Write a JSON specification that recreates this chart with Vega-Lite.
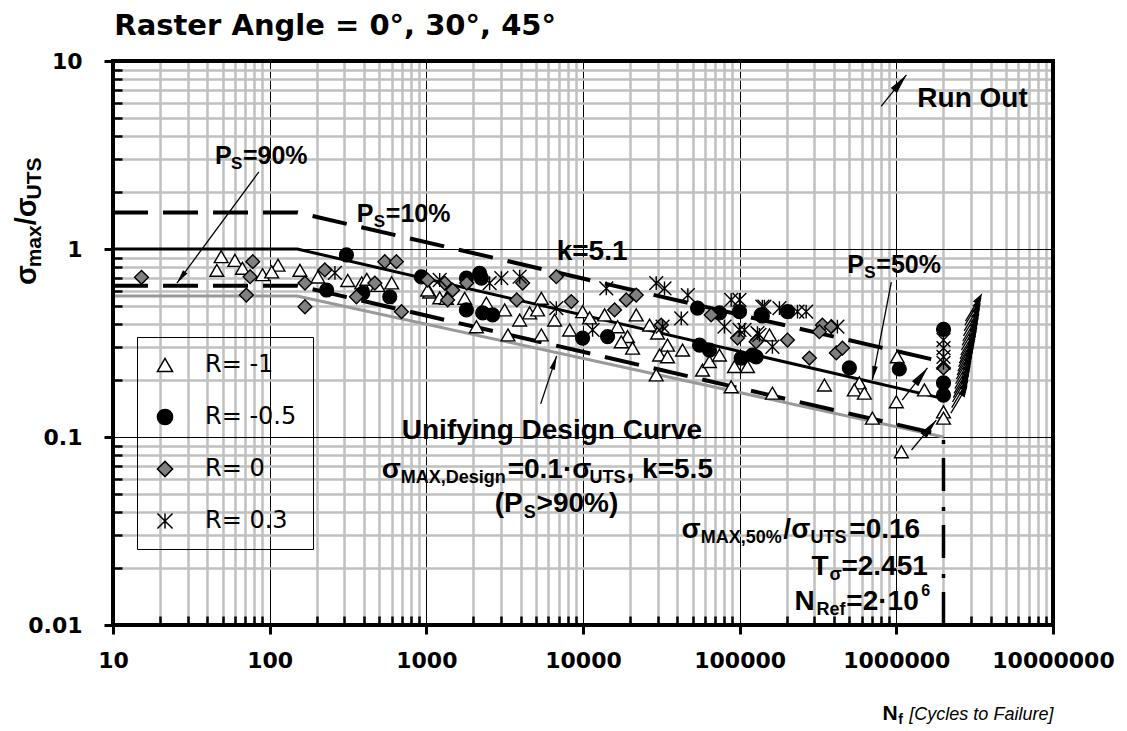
{
"$schema": "https://vega.github.io/schema/vega-lite/v6.json",
"width": 940,
"height": 564,
"autosize": {"type": "none"},
"padding": {"left": 113, "top": 61, "right": 74, "bottom": 106},
"background": "white",
"config": {"view": {"stroke": null}},
"resolve": {"axis": {"x": "independent", "y": "independent"}},
"datasets": {
"curves": [
{"c":"design","N":10,"sigma":0.562},{"c":"design","N":150,"sigma":0.562},{"c":"design","N":2000000,"sigma":0.1},
{"c":"p90","N":10,"sigma":0.638},{"c":"p90","N":150,"sigma":0.638},{"c":"p90","N":2000000,"sigma":0.102},
{"c":"p10","N":10,"sigma":1.566},{"c":"p10","N":150,"sigma":1.566},{"c":"p10","N":2000000,"sigma":0.2506},
{"c":"p50","N":10,"sigma":1.0},{"c":"p50","N":150,"sigma":1.0},{"c":"p50","N":2000000,"sigma":0.16}
],
"vref": [{"N":2000000,"lo":0.01,"hi":0.1}],
"frame": [{"x":10,"x2":10000000,"y":0.01,"y2":10}],
"points": [
{"R":"-1","N":49,"sigma":0.91},{"R":"-1","N":46,"sigma":0.77},{"R":"-1","N":60,"sigma":0.87},{"R":"-1","N":67,"sigma":0.79},{"R":"-1","N":113,"sigma":0.82},{"R":"-1","N":90,"sigma":0.73},{"R":"-1","N":103,"sigma":0.755},{"R":"-1","N":156,"sigma":0.77},{"R":"-1","N":203,"sigma":0.71},{"R":"-1","N":315,"sigma":0.68},{"R":"-1","N":387,"sigma":0.66},{"R":"-1","N":417,"sigma":0.69},{"R":"-1","N":490,"sigma":0.64},{"R":"-1","N":601,"sigma":0.66},{"R":"-1","N":1050,"sigma":0.59},{"R":"-1","N":1217,"sigma":0.55},{"R":"-1","N":1020,"sigma":0.605},{"R":"-1","N":1343,"sigma":0.547},{"R":"-1","N":1757,"sigma":0.547},{"R":"-1","N":2417,"sigma":0.516},{"R":"-1","N":3162,"sigma":0.474},{"R":"-1","N":4563,"sigma":0.457},{"R":"-1","N":5420,"sigma":0.547},{"R":"-1","N":5130,"sigma":0.474},{"R":"-1","N":6590,"sigma":0.419},{"R":"-1","N":3942,"sigma":0.419},{"R":"-1","N":2088,"sigma":0.386},{"R":"-1","N":3320,"sigma":0.349},{"R":"-1","N":5420,"sigma":0.349},{"R":"-1","N":8220,"sigma":0.371},{"R":"-1","N":9940,"sigma":0.464},{"R":"-1","N":11020,"sigma":0.43},{"R":"-1","N":13740,"sigma":0.446},{"R":"-1","N":16620,"sigma":0.386},{"R":"-1","N":19240,"sigma":0.342},{"R":"-1","N":17540,"sigma":0.321},{"R":"-1","N":20720,"sigma":0.297},{"R":"-1","N":21870,"sigma":0.446},{"R":"-1","N":26620,"sigma":0.394},{"R":"-1","N":29900,"sigma":0.357},{"R":"-1","N":34640,"sigma":0.308},{"R":"-1","N":30820,"sigma":0.273},{"R":"-1","N":34640,"sigma":0.267},{"R":"-1","N":43200,"sigma":0.29},{"R":"-1","N":29330,"sigma":0.214},{"R":"-1","N":57930,"sigma":0.227},{"R":"-1","N":64150,"sigma":0.252},{"R":"-1","N":74310,"sigma":0.273},{"R":"-1","N":92680,"sigma":0.237},{"R":"-1","N":112200,"sigma":0.237},{"R":"-1","N":88280,"sigma":0.185},{"R":"-1","N":154900,"sigma":0.349},{"R":"-1","N":161800,"sigma":0.171},{"R":"-1","N":347500,"sigma":0.189},{"R":"-1","N":580500,"sigma":0.194},{"R":"-1","N":539500,"sigma":0.178},{"R":"-1","N":624900,"sigma":0.171},{"R":"-1","N":703200,"sigma":0.126},{"R":"-1","N":1014000,"sigma":0.267},{"R":"-1","N":1000000,"sigma":0.154},{"R":"-1","N":1511000,"sigma":0.178},{"R":"-1","N":2000000,"sigma":0.136},{"R":"-1","N":2000000,"sigma":0.126},{"R":"-1","N":1077000,"sigma":0.0835},
{"R":"-0.5","N":309,"sigma":0.93},{"R":"-0.5","N":931,"sigma":0.71},{"R":"-0.5","N":231,"sigma":0.605},{"R":"-0.5","N":393,"sigma":0.583},{"R":"-0.5","N":584,"sigma":0.557},{"R":"-0.5","N":1803,"sigma":0.70},{"R":"-0.5","N":2190,"sigma":0.743},{"R":"-0.5","N":2245,"sigma":0.70},{"R":"-0.5","N":1803,"sigma":0.474},{"R":"-0.5","N":2290,"sigma":0.457},{"R":"-0.5","N":2650,"sigma":0.446},{"R":"-0.5","N":9940,"sigma":0.336},{"R":"-0.5","N":14350,"sigma":0.342},{"R":"-0.5","N":53830,"sigma":0.485},{"R":"-0.5","N":74310,"sigma":0.457},{"R":"-0.5","N":99730,"sigma":0.464},{"R":"-0.5","N":137100,"sigma":0.446},{"R":"-0.5","N":55430,"sigma":0.308},{"R":"-0.5","N":64150,"sigma":0.29},{"R":"-0.5","N":102300,"sigma":0.263},{"R":"-0.5","N":127400,"sigma":0.267},{"R":"-0.5","N":139600,"sigma":0.44},{"R":"-0.5","N":201900,"sigma":0.464},{"R":"-0.5","N":501400,"sigma":0.233},{"R":"-0.5","N":1045000,"sigma":0.23},{"R":"-0.5","N":120800,"sigma":0.273},{"R":"-0.5","N":2000000,"sigma":0.374},{"R":"-0.5","N":2000000,"sigma":0.194},{"R":"-0.5","N":2000000,"sigma":0.167},
{"R":"0","N":15.2,"sigma":0.707},{"R":"0","N":78,"sigma":0.856},{"R":"0","N":75,"sigma":0.712},{"R":"0","N":71,"sigma":0.569},{"R":"0","N":168,"sigma":0.659},{"R":"0","N":168,"sigma":0.493},{"R":"0","N":225,"sigma":0.774},{"R":"0","N":358,"sigma":0.557},{"R":"0","N":469,"sigma":0.659},{"R":"0","N":543,"sigma":0.856},{"R":"0","N":644,"sigma":0.856},{"R":"0","N":694,"sigma":0.464},{"R":"0","N":1020,"sigma":0.684},{"R":"0","N":1310,"sigma":0.659},{"R":"0","N":1473,"sigma":0.605},{"R":"0","N":1368,"sigma":0.536},{"R":"0","N":1811,"sigma":0.659},{"R":"0","N":4121,"sigma":0.659},{"R":"0","N":6757,"sigma":0.712},{"R":"0","N":3776,"sigma":0.536},{"R":"0","N":8420,"sigma":0.525},{"R":"0","N":15910,"sigma":0.474},{"R":"0","N":21870,"sigma":0.569},{"R":"0","N":18890,"sigma":0.536},{"R":"0","N":31580,"sigma":0.394},{"R":"0","N":65770,"sigma":0.446},{"R":"0","N":96850,"sigma":0.336},{"R":"0","N":127400,"sigma":0.321},{"R":"0","N":201900,"sigma":0.328},{"R":"0","N":278700,"sigma":0.263},{"R":"0","N":337400,"sigma":0.394},{"R":"0","N":384800,"sigma":0.386},{"R":"0","N":322800,"sigma":0.363},{"R":"0","N":414000,"sigma":0.28},{"R":"0","N":452900,"sigma":0.297},{"R":"0","N":2000000,"sigma":0.233},
{"R":"0.3","N":261,"sigma":0.746},{"R":"0.3","N":1217,"sigma":0.684},{"R":"0.3","N":2535,"sigma":0.659},{"R":"0.3","N":3013,"sigma":0.70},{"R":"0.3","N":3942,"sigma":0.712},{"R":"0.3","N":6757,"sigma":0.485},{"R":"0.3","N":11510,"sigma":0.371},{"R":"0.3","N":14090,"sigma":0.618},{"R":"0.3","N":29330,"sigma":0.659},{"R":"0.3","N":33130,"sigma":0.618},{"R":"0.3","N":46690,"sigma":0.569},{"R":"0.3","N":42390,"sigma":0.428},{"R":"0.3","N":32200,"sigma":0.386},{"R":"0.3","N":79980,"sigma":0.386},{"R":"0.3","N":88280,"sigma":0.536},{"R":"0.3","N":99730,"sigma":0.536},{"R":"0.3","N":99730,"sigma":0.371},{"R":"0.3","N":107400,"sigma":0.371},{"R":"0.3","N":133700,"sigma":0.349},{"R":"0.3","N":129900,"sigma":0.357},{"R":"0.3","N":139600,"sigma":0.493},{"R":"0.3","N":143900,"sigma":0.493},{"R":"0.3","N":179400,"sigma":0.485},{"R":"0.3","N":233900,"sigma":0.464},{"R":"0.3","N":265700,"sigma":0.464},{"R":"0.3","N":161800,"sigma":0.302},{"R":"0.3","N":420600,"sigma":0.386},{"R":"0.3","N":2000000,"sigma":0.328},{"R":"0.3","N":2000000,"sigma":0.297},{"R":"0.3","N":2000000,"sigma":0.267},{"R":"0.3","N":2000000,"sigma":0.248}
],
"runout": [
{"N":2500000,"sigma":0.157},{"N":2530000,"sigma":0.168},{"N":2560000,"sigma":0.18},{"N":2590000,"sigma":0.19},{"N":2620000,"sigma":0.2},{"N":2650000,"sigma":0.212},{"N":2680000,"sigma":0.225},{"N":2710000,"sigma":0.238},{"N":2740000,"sigma":0.25},{"N":2770000,"sigma":0.263},{"N":2800000,"sigma":0.277},{"N":2830000,"sigma":0.29},{"N":2860000,"sigma":0.305},{"N":2890000,"sigma":0.32},{"N":2920000,"sigma":0.34},{"N":2950000,"sigma":0.36},{"N":2980000,"sigma":0.38},{"N":3010000,"sigma":0.405},{"N":3040000,"sigma":0.43},{"N":3070000,"sigma":0.46},{"N":3100000,"sigma":0.485}
],
"arrows": [
{"id":"a1","x1":85.3,"y1":2.57,"x2":25.6,"y2":0.659},
{"id":"a2","x1":929000,"y1":0.667,"x2":703000,"y2":0.201},
{"id":"a3","x1":5370,"y1":0.150,"x2":6790,"y2":0.270},
{"id":"a4","x1":802000,"y1":5.76,"x2":1160000,"y2":8.43},
{"id":"a5","x1":1090000,"y1":0.157,"x2":1580000,"y2":0.233},
{"id":"a6","x1":1250000,"y1":0.0853,"x2":1800000,"y2":0.123}
],
"t_title": [{"t":"Raster Angle = 0°, 30°, 45°","x":10.2,"y":13.75}],
"t_big": [
{"t":"Run Out","x":1361000,"y":5.69},
{"t":"k=5.1","x":6790,"y":0.874},
{"t":"Unifying Design Curve","x":697,"y":0.0976},
{"t":"σ","x":519.5,"y":0.0605},
{"t":"=0.1·σ","x":3304,"y":0.0605},
{"t":", k=5.5","x":18970,"y":0.0605},
{"t":"(P","x":2730,"y":0.0399},
{"t":">90%)","x":5058,"y":0.0399},
{"t":"σ","x":42560,"y":0.029},
{"t":"/σ","x":190100,"y":0.029},
{"t":"=0.16","x":501200,"y":0.029},
{"t":"T","x":287100,"y":0.01845},
{"t":"=2.451","x":445900,"y":0.01845},
{"t":"N","x":223500,"y":0.01202},
{"t":"=2·10","x":479800,"y":0.01202}
],
"t_sub": [
{"t":"MAX,Design","x":687,"y":0.0569},
{"t":"UTS","x":11020,"y":0.0569},
{"t":"S","x":4180,"y":0.0371},
{"t":"MAX,50%","x":56500,"y":0.0273},
{"t":"UTS","x":283100,"y":0.0273},
{"t":"σ","x":374100,"y":0.01734},
{"t":"Ref","x":309000,"y":0.0113}
],
"t_sup": [{"t":"6","x":1443000,"y":0.01426}],
"t_ps": [
{"t":"P","x":44.7,"y":2.832},{"t":"=90%","x":67.5,"y":2.832},
{"t":"P","x":359.8,"y":1.392},{"t":"=10%","x":551,"y":1.392},
{"t":"P","x":486900,"y":0.7454},{"t":"=50%","x":745000,"y":0.7454}
],
"t_ps_sub": [
{"t":"S","x":56.6,"y":2.665},{"t":"S","x":461.8,"y":1.309},{"t":"S","x":625100,"y":0.7015}
],
"yt_main": [{"t":"σ","x":3.228,"y":0.6434},{"t":"/σ","x":3.228,"y":1.337}],
"yt_sub": [{"t":"max","x":3.474,"y":0.7992},{"t":"UTS","x":3.474,"y":1.834}],
"xt_n": [{"t":"N","x":814700,"y":0.003126}],
"xt_f": [{"t":"f","x":1030000,"y":0.002974}],
"xt_it": [{"t":"[Cycles to Failure]","x":1211000,"y":0.003126}]
},
"layer": [
{"data":{"name":"curves"},"transform":[{"filter":"datum.c==='design'"}],
 "mark":{"type":"line","color":"#999999","strokeWidth":3},
 "encoding":{
  "x":{"field":"N","type":"quantitative","scale":{"type":"log","domain":[10,10000000],"nice":false},
   "axis":{"orient":"bottom","values":[20,30,40,50,60,70,80,90,200,300,400,500,600,700,800,900,2000,3000,4000,5000,6000,7000,8000,9000,20000,30000,40000,50000,60000,70000,80000,90000,200000,300000,400000,500000,600000,700000,800000,900000,2000000,3000000,4000000,5000000,6000000,7000000,8000000,9000000],
    "grid":true,"gridColor":"#c0c0c0","gridWidth":2.5,"ticks":true,"tickSize":-9,"tickWidth":2.5,"tickColor":"black","labels":false,"domain":false,"title":null,"zindex":0}},
  "y":{"field":"sigma","type":"quantitative","scale":{"type":"log","domain":[0.01,10],"nice":false},
   "axis":{"orient":"left","values":[0.02,0.03,0.04,0.05,0.06,0.07,0.08,0.09,0.2,0.3,0.4,0.5,0.6,0.7,0.8,0.9,2,3,4,5,6,7,8,9],
    "grid":true,"gridColor":"#c0c0c0","gridWidth":2.5,"ticks":true,"tickSize":-9,"tickWidth":2.5,"tickColor":"black","labels":false,"domain":false,"title":null,"zindex":0}}
 }},
{"data":{"name":"curves"},"transform":[{"filter":"datum.c==='p90'"}],
 "mark":{"type":"line","color":"black","strokeWidth":4,"strokeDash":[35,15]},
 "encoding":{
  "x":{"field":"N","type":"quantitative","scale":{"type":"log","domain":[10,10000000],"nice":false},
   "axis":{"orient":"bottom","values":[10,100,1000,10000,100000,1000000,10000000],"grid":true,"gridColor":"black","gridWidth":1,"ticks":true,"tickSize":9,"tickWidth":3,"tickColor":"black","labels":true,"labelExpr":"format(datum.value, '~f')","labelFont":"DejaVu Sans","labelFontWeight":"bold","labelFontSize":22,"labelColor":"black","labelPadding":16,"labelOverlap":false,"labelFlush":false,"labelBound":false,"domain":false,"title":null,"zindex":0}},
  "y":{"field":"sigma","type":"quantitative","scale":{"type":"log","domain":[0.01,10],"nice":false},
   "axis":{"orient":"left","values":[0.01,0.1,1,10],"grid":true,"gridColor":"black","gridWidth":1,"ticks":true,"tickSize":9,"tickWidth":3,"tickColor":"black","labels":true,"labelExpr":"format(datum.value, '~f')","labelFont":"DejaVu Sans","labelFontWeight":"bold","labelFontSize":22,"labelColor":"black","labelPadding":22,"labelOverlap":false,"labelFlush":false,"labelBound":false,"domain":false,"title":null,"zindex":0}}
 }},
{"data":{"name":"curves"},"transform":[{"filter":"datum.c==='p10'"}],
 "mark":{"type":"line","color":"black","strokeWidth":4,"strokeDash":[35,15]},
 "encoding":{"x":{"field":"N","type":"quantitative","axis":null},"y":{"field":"sigma","type":"quantitative","axis":null}}},
{"data":{"name":"curves"},"transform":[{"filter":"datum.c==='p50'"}],
 "mark":{"type":"line","color":"black","strokeWidth":3},
 "encoding":{"x":{"field":"N","type":"quantitative","axis":null},"y":{"field":"sigma","type":"quantitative","axis":null}}},
{"data":{"name":"vref"},
 "mark":{"type":"rule","color":"black","strokeWidth":3.5,"strokeDash":[33,14,4,16],"strokeCap":"butt"},
 "encoding":{"x":{"field":"N","type":"quantitative","axis":null},"y":{"field":"lo","type":"quantitative","axis":null},"y2":{"field":"hi"}}},
{"data":{"name":"points"},
 "mark":{"type":"point","size":190,"strokeWidth":1.4,"opacity":1},
 "encoding":{
  "x":{"field":"N","type":"quantitative","axis":null},
  "y":{"field":"sigma","type":"quantitative","axis":null},
  "shape":{"field":"R","type":"nominal","scale":{"domain":["-1","-0.5","0","0.3"],"range":["triangle-up","circle","diamond","M-1,-1L1,1M-1,1L1,-1M0,-1L0,1"]},
   "legend":{"orient":"none","legendX":24,"legendY":276,"title":null,"padding":16,"strokeColor":"black","labelFont":"DejaVu Sans","labelFontSize":24,"labelColor":"black","symbolSize":230,"symbolStrokeWidth":1.5,"rowPadding":28,"labelOffset":28,"labelExpr":"'R= ' + datum.label","encode":{"legend":{"update":{"strokeWidth":{"value":1.7}}}}}},
  "fill":{"field":"R","type":"nominal","scale":{"domain":["-1","-0.5","0","0.3"],"range":["white","black","#808080","transparent"]},
   "legend":{"orient":"none","legendX":24,"legendY":276,"title":null,"padding":16,"strokeColor":"black","labelFont":"DejaVu Sans","labelFontSize":24,"labelColor":"black","symbolSize":230,"symbolStrokeWidth":1.5,"rowPadding":28,"labelOffset":28,"labelExpr":"'R= ' + datum.label"}},
  "stroke":{"field":"R","type":"nominal","scale":{"domain":["-1","-0.5","0","0.3"],"range":["black","black","black","black"]},
   "legend":{"orient":"none","legendX":24,"legendY":276,"title":null,"padding":16,"strokeColor":"black","labelFont":"DejaVu Sans","labelFontSize":24,"labelColor":"black","symbolSize":230,"symbolStrokeWidth":1.5,"rowPadding":28,"labelOffset":28,"labelExpr":"'R= ' + datum.label"}}
 }},
{"data":{"name":"runout"},
 "mark":{"type":"point","shape":"M-0.6,1L0.24,-0.4M0.6,-1L0.429,-0.287L0.051,-0.513Z","size":676,"filled":true,"fill":"black","stroke":"black","strokeWidth":1.3,"opacity":1},
 "encoding":{"x":{"field":"N","type":"quantitative","axis":null},"y":{"field":"sigma","type":"quantitative","axis":null}}},
{"data":{"name":"arrows"},
 "mark":{"type":"rule","color":"black","strokeWidth":1.3},
 "encoding":{"x":{"field":"x1","type":"quantitative","axis":null},"y":{"field":"y1","type":"quantitative","axis":null},"x2":{"field":"x2"},"y2":{"field":"y2"}}},
{"data":{"name":"arrows"},"transform":[{"filter":"datum.id==='a1'"}],
 "mark":{"type":"point","shape":"M0,0L0.4,2L-0.4,2Z","size":196,"angle":216.5,"filled":true,"color":"black","opacity":1},
 "encoding":{"x":{"field":"x2","type":"quantitative","axis":null},"y":{"field":"y2","type":"quantitative","axis":null}}},
{"data":{"name":"arrows"},"transform":[{"filter":"datum.id==='a2'"}],
 "mark":{"type":"point","shape":"M0,0L0.4,2L-0.4,2Z","size":196,"angle":191,"filled":true,"color":"black","opacity":1},
 "encoding":{"x":{"field":"x2","type":"quantitative","axis":null},"y":{"field":"y2","type":"quantitative","axis":null}}},
{"data":{"name":"arrows"},"transform":[{"filter":"datum.id==='a3'"}],
 "mark":{"type":"point","shape":"M0,0L0.4,2L-0.4,2Z","size":196,"angle":18.4,"filled":true,"color":"black","opacity":1},
 "encoding":{"x":{"field":"x2","type":"quantitative","axis":null},"y":{"field":"y2","type":"quantitative","axis":null}}},
{"data":{"name":"arrows"},"transform":[{"filter":"datum.id==='a4'"}],
 "mark":{"type":"point","shape":"M0,0L0.4,2L-0.4,2Z","size":400,"angle":38.9,"filled":true,"color":"black","opacity":1},
 "encoding":{"x":{"field":"x2","type":"quantitative","axis":null},"y":{"field":"y2","type":"quantitative","axis":null}}},
{"data":{"name":"arrows"},"transform":[{"filter":"datum.id==='a5'"}],
 "mark":{"type":"point","shape":"M0,0L0.4,2L-0.4,2Z","size":400,"angle":38,"filled":true,"color":"black","opacity":1},
 "encoding":{"x":{"field":"x2","type":"quantitative","axis":null},"y":{"field":"y2","type":"quantitative","axis":null}}},
{"data":{"name":"arrows"},"transform":[{"filter":"datum.id==='a6'"}],
 "mark":{"type":"point","shape":"M0,0L0.4,2L-0.4,2Z","size":400,"angle":39.8,"filled":true,"color":"black","opacity":1},
 "encoding":{"x":{"field":"x2","type":"quantitative","axis":null},"y":{"field":"y2","type":"quantitative","axis":null}}},
{"data":{"name":"t_title"},
 "mark":{"type":"text","font":"DejaVu Sans","fontWeight":"bold","fontSize":29,"align":"left","baseline":"alphabetic","fill":"black"},
 "encoding":{"x":{"field":"x","type":"quantitative","axis":null},"y":{"field":"y","type":"quantitative","axis":null},"text":{"field":"t"}}},
{"data":{"name":"t_big"},
 "mark":{"type":"text","font":"Liberation Sans","fontWeight":"bold","fontSize":28,"align":"left","baseline":"alphabetic","fill":"black"},
 "encoding":{"x":{"field":"x","type":"quantitative","axis":null},"y":{"field":"y","type":"quantitative","axis":null},"text":{"field":"t"}}},
{"data":{"name":"t_sub"},
 "mark":{"type":"text","font":"Liberation Sans","fontWeight":"bold","fontSize":18,"align":"left","baseline":"alphabetic","fill":"black"},
 "encoding":{"x":{"field":"x","type":"quantitative","axis":null},"y":{"field":"y","type":"quantitative","axis":null},"text":{"field":"t"}}},
{"data":{"name":"t_sup"},
 "mark":{"type":"text","font":"Liberation Sans","fontWeight":"bold","fontSize":16,"align":"left","baseline":"alphabetic","fill":"black"},
 "encoding":{"x":{"field":"x","type":"quantitative","axis":null},"y":{"field":"y","type":"quantitative","axis":null},"text":{"field":"t"}}},
{"data":{"name":"t_ps"},
 "mark":{"type":"text","font":"Liberation Sans","fontWeight":"bold","fontSize":25,"align":"left","baseline":"alphabetic","fill":"black"},
 "encoding":{"x":{"field":"x","type":"quantitative","axis":null},"y":{"field":"y","type":"quantitative","axis":null},"text":{"field":"t"}}},
{"data":{"name":"t_ps_sub"},
 "mark":{"type":"text","font":"Liberation Sans","fontWeight":"bold","fontSize":17,"align":"left","baseline":"alphabetic","fill":"black"},
 "encoding":{"x":{"field":"x","type":"quantitative","axis":null},"y":{"field":"y","type":"quantitative","axis":null},"text":{"field":"t"}}},
{"data":{"name":"yt_main"},
 "mark":{"type":"text","font":"Liberation Sans","fontWeight":"bold","fontSize":29,"align":"left","baseline":"alphabetic","angle":270,"fill":"black"},
 "encoding":{"x":{"field":"x","type":"quantitative","axis":null},"y":{"field":"y","type":"quantitative","axis":null},"text":{"field":"t"}}},
{"data":{"name":"yt_sub"},
 "mark":{"type":"text","font":"Liberation Sans","fontWeight":"bold","fontSize":21,"align":"left","baseline":"alphabetic","angle":270,"fill":"black"},
 "encoding":{"x":{"field":"x","type":"quantitative","axis":null},"y":{"field":"y","type":"quantitative","axis":null},"text":{"field":"t"}}},
{"data":{"name":"xt_n"},
 "mark":{"type":"text","font":"Liberation Sans","fontWeight":"bold","fontSize":21,"align":"left","baseline":"alphabetic","fill":"black"},
 "encoding":{"x":{"field":"x","type":"quantitative","axis":null},"y":{"field":"y","type":"quantitative","axis":null},"text":{"field":"t"}}},
{"data":{"name":"xt_f"},
 "mark":{"type":"text","font":"Liberation Sans","fontWeight":"bold","fontSize":14,"align":"left","baseline":"alphabetic","fill":"black"},
 "encoding":{"x":{"field":"x","type":"quantitative","axis":null},"y":{"field":"y","type":"quantitative","axis":null},"text":{"field":"t"}}},
{"data":{"name":"xt_it"},
 "mark":{"type":"text","font":"Liberation Sans","fontStyle":"italic","fontSize":18,"align":"left","baseline":"alphabetic","fill":"black"},
 "encoding":{"x":{"field":"x","type":"quantitative","axis":null},"y":{"field":"y","type":"quantitative","axis":null},"text":{"field":"t"}}},
{"data":{"name":"frame"},
 "mark":{"type":"rect","fillOpacity":0,"stroke":"black","strokeWidth":4},
 "encoding":{"x":{"field":"x","type":"quantitative","axis":null},"x2":{"field":"x2"},"y":{"field":"y","type":"quantitative","axis":null},"y2":{"field":"y2"}}}
]
}
